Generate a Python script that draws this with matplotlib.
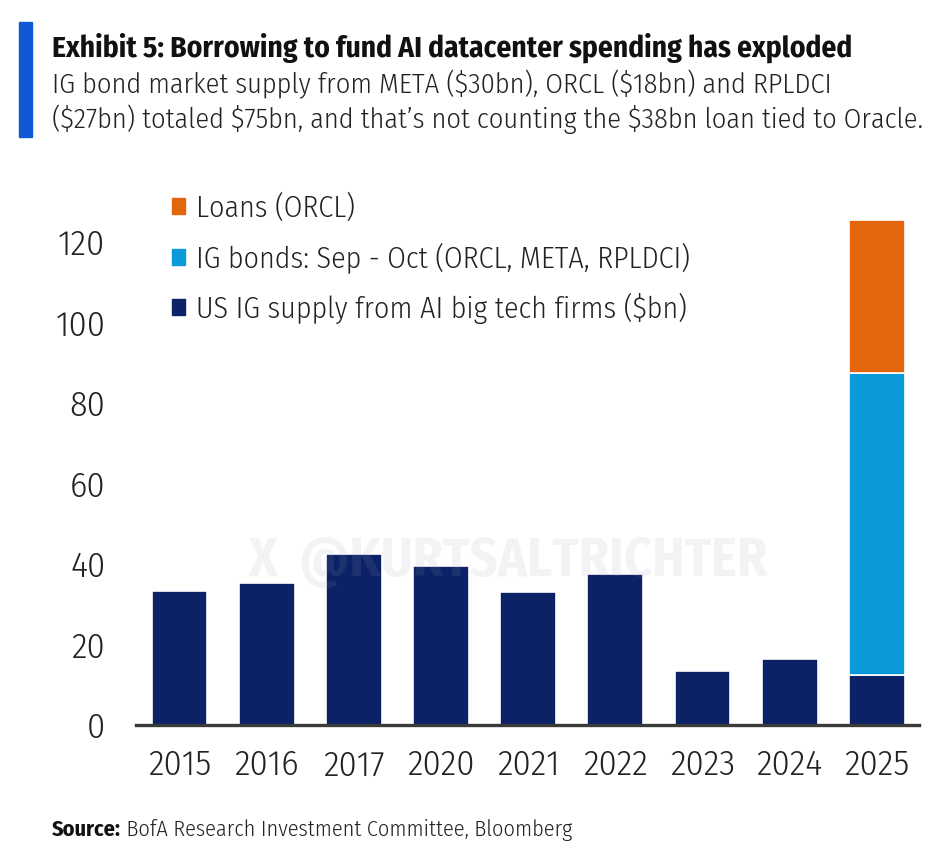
import numpy as np
import matplotlib.pyplot as plt
from matplotlib.patches import Rectangle, Patch

plt.rcParams['font.family'] = ['Fira Sans Condensed', 'DejaVu Sans']
plt.rcParams['font.weight'] = 300

# data ($bn)
years = ['2015', '2016', '2017', '2020', '2021', '2022', '2023', '2024', '2025']
us_ig_supply = [33.2, 35.2, 42.5, 39.4, 33.0, 37.6, 13.5, 16.5, 12.5]
ig_bonds = [0, 0, 0, 0, 0, 0, 0, 0, 75]
loans = [0, 0, 0, 0, 0, 0, 0, 0, 38]

navy = '#0b2266'
light_blue = '#0a9ad9'
orange = '#e3660c'
txt = '#222222'

fig = plt.figure(figsize=(9.5, 8.48), dpi=100)
ax = fig.add_axes([0.143, 0.145, 0.824, 0.617])

x = np.arange(len(years))
w = 0.64
ax.bar(x, us_ig_supply, w, color=navy, edgecolor='white', linewidth=1.2)
b2 = np.array(us_ig_supply) + np.array(ig_bonds)
ax.bar(x[-1:], ig_bonds[-1:], w, bottom=us_ig_supply[-1:], color=light_blue,
       edgecolor='white', linewidth=1.2)
ax.bar(x[-1:], loans[-1:], w, bottom=b2[-1:], color=orange,
       edgecolor='white', linewidth=1.2)

ax.set_xlim(-0.5, 8.48)
ax.set_ylim(0, 130)
ax.set_yticks([0, 20, 40, 60, 80, 100, 120])
ax.set_xticks(x)
ax.set_xticklabels(years)
ax.tick_params(axis='y', length=0, pad=22, labelsize=26, colors=txt)
ax.tick_params(axis='x', length=0, pad=17, labelsize=26, colors=txt)
for s in ['top', 'right', 'left']:
    ax.spines[s].set_visible(False)
ax.spines['bottom'].set_color('#3a3a3a')
ax.spines['bottom'].set_linewidth(2.4)

handles = [Patch(color=orange, label='Loans (ORCL)'),
           Patch(color=light_blue, label='IG bonds: Sep - Oct (ORCL, META, RPLDCI)'),
           Patch(color=navy, label='US IG supply from AI big tech firms ($bn)')]
ax.legend(handles=handles, loc='upper left', bbox_to_anchor=(0.181, 0.772),
          bbox_transform=fig.transFigure, frameon=False, fontsize=21.6,
          handlelength=0.45, handleheight=0.45, handletextpad=0.35,
          labelspacing=0.66, borderpad=0, borderaxespad=0, labelcolor=txt)

# watermark
fig.text(0.535, 0.338, 'X  @KURTSALTRICHTER', fontsize=39, fontweight='bold',
         color='#9aa0aa', alpha=0.12, ha='center', va='center')

# header
fig.patches.append(Rectangle((0.020, 0.838), 0.014, 0.136, transform=fig.transFigure,
                             color='#1158d6', zorder=3))
fig.text(0.055, 0.944, 'Exhibit 5: Borrowing to fund AI datacenter spending has exploded',
         fontsize=21.2, fontweight='bold', color='#111111', va='center')
fig.text(0.055, 0.901, 'IG bond market supply from META (\\$30bn), ORCL (\\$18bn) and RPLDCI',
         fontsize=20.4, color=txt, va='center')
fig.text(0.055, 0.859, '(\\$27bn) totaled \\$75bn, and that\u2019s not counting the \\$38bn loan tied to Oracle.',
         fontsize=20.4, color=txt, va='center')

src = fig.text(0.055, 0.021, 'Source:', fontsize=16, fontweight='bold', color='#111111', va='center')
ax.annotate(' BofA Research Investment Committee, Bloomberg', xy=(1, 0.5), xycoords=src,
            fontsize=16, color=txt, va='center', ha='left')

fig.savefig('out.png', dpi=100)
